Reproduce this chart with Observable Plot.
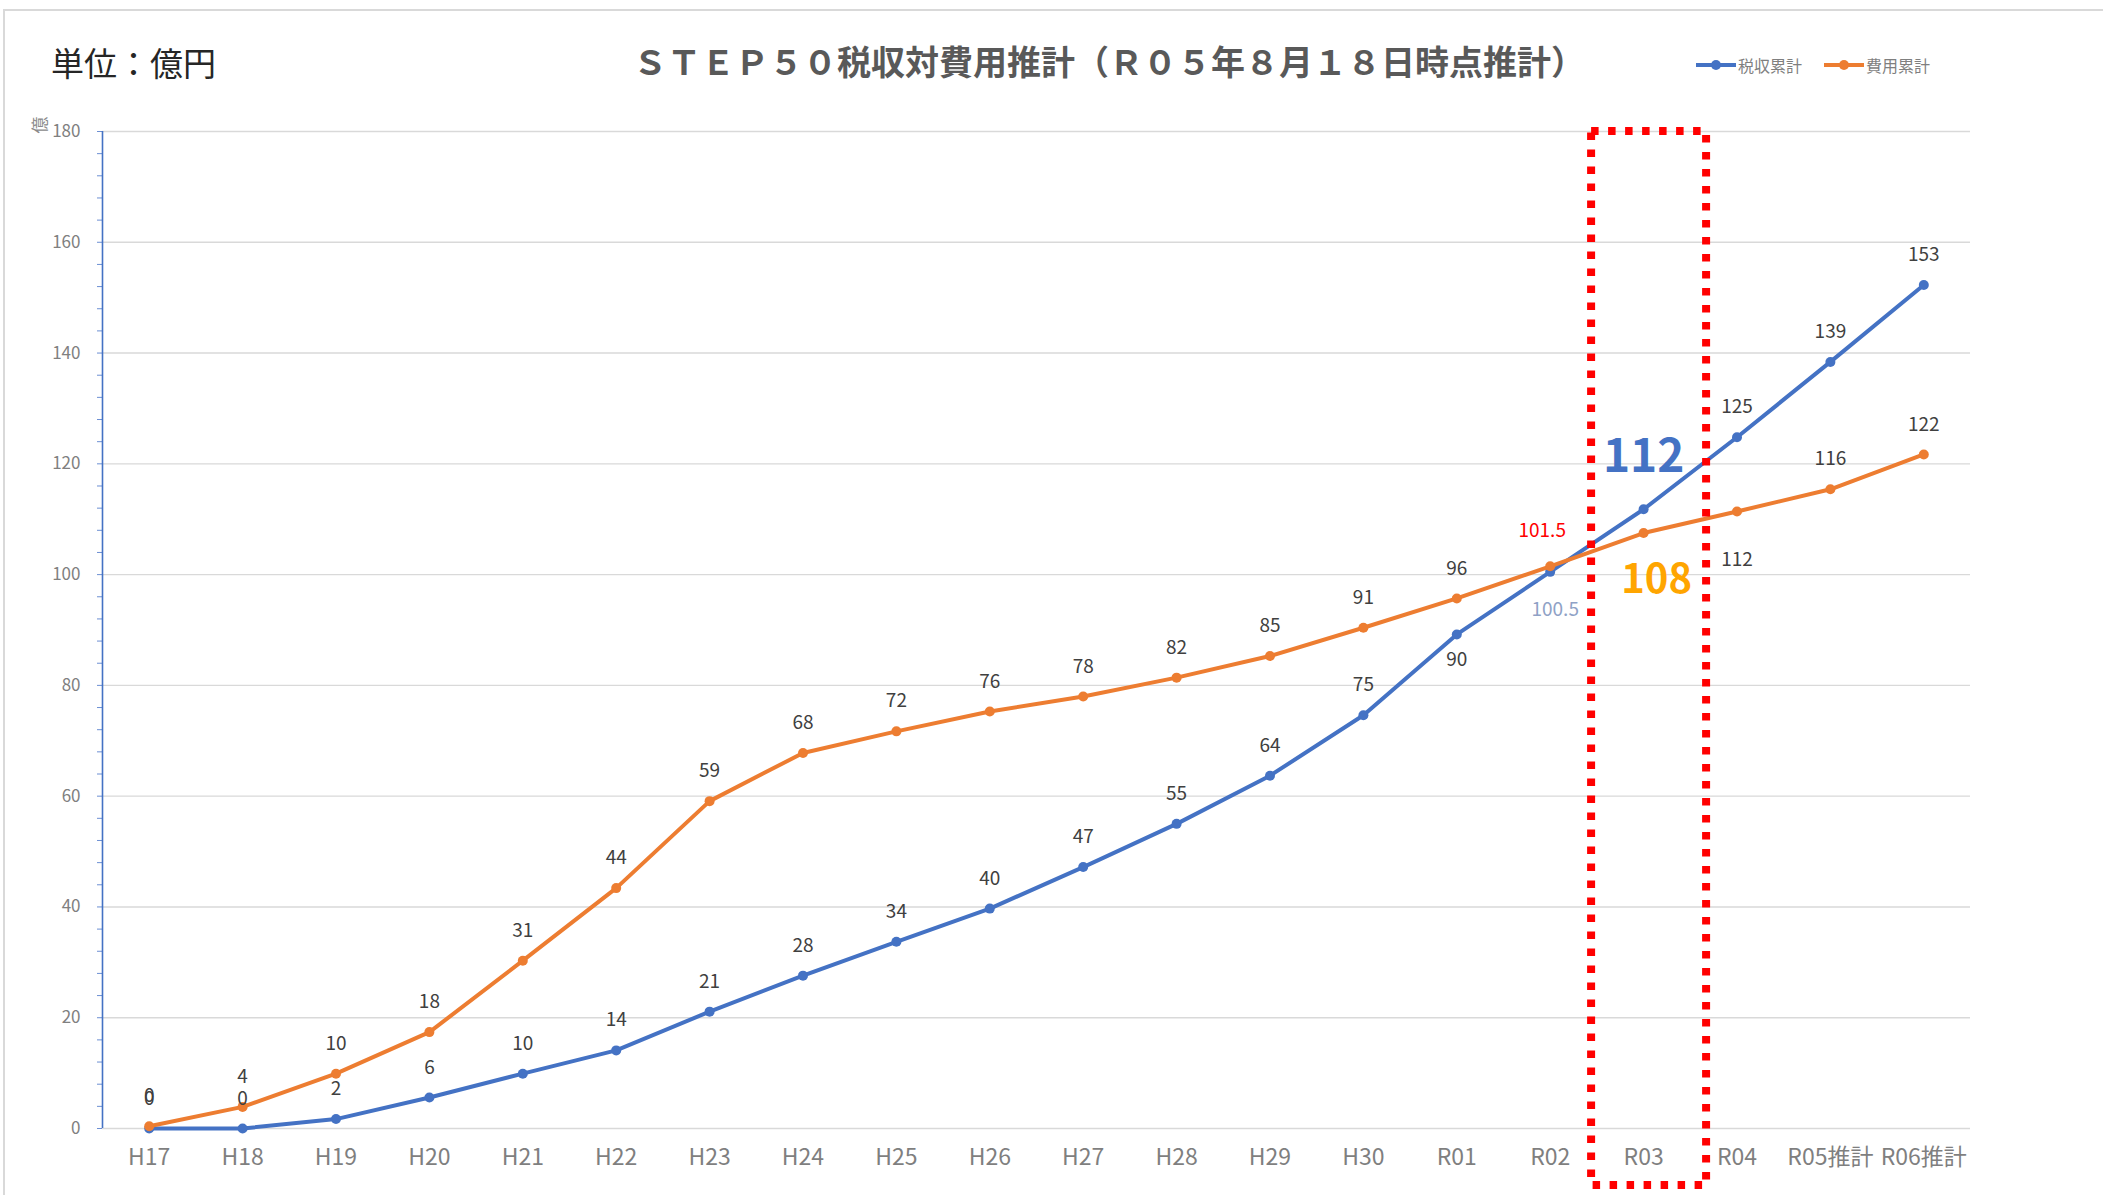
<!DOCTYPE html>
<html lang="ja">
<head>
<meta charset="utf-8">
<script src="https://cdn.jsdelivr.net/npm/d3@7"></script>
<script src="https://cdn.jsdelivr.net/npm/@observablehq/plot@0.6"></script>
<style>
  html, body { margin: 0; padding: 0; background: #fff; }
  body { width: 2103px; height: 1195px; overflow: hidden; position: relative; font-family: "Noto Sans CJK JP", sans-serif; }
  #frame { position: absolute; left: 3px; top: 9px; width: 2200px; height: 1300px; border-left: 2px solid #d9d9d9; border-top: 2px solid #d9d9d9; }
  #unit { position: absolute; left: 51px; top: 40px; font-size: 33px; color: #262626; line-height: 44px; }
  #title { position: absolute; left: 7px; width: 2204px; top: 39px; text-align: center; font-size: 34px; font-weight: 700; color: #595959; line-height: 44px; }
  #legend { position: absolute; left: 1696px; top: 53px; display: flex; align-items: center; font-size: 16px; color: #7f7f7f; }
  #legend .item { display: flex; align-items: center; margin-right: 22px; }
  #legend svg { margin-right: 2px; }
  #chart { position: absolute; left: 0; top: 95px; }
</style>
</head>
<body>
<div id="frame"></div>
<div id="unit">単位：億円</div>
<div id="title">ＳＴＥＰ５０税収対費用推計（Ｒ０５年８月１８日時点推計）</div>
<div id="legend"></div>
<div id="chart"></div>
<script>
// ---- data ----
const categories = ["H17","H18","H19","H20","H21","H22","H23","H24","H25","H26","H27","H28","H29","H30","R01","R02","R03","R04","R05推計","R06推計"];
const seriesNames = ["税収累計", "費用累計"];
const taxValues  = [0, 0, 1.7, 5.6, 9.9, 14.1, 21.1, 27.6, 33.7, 39.7, 47.2, 55.0, 63.7, 74.6, 89.2, 100.5, 111.8, 124.8, 138.4, 152.3];
const costValues = [0.4, 3.9, 9.9, 17.4, 30.3, 43.4, 59.1, 67.8, 71.7, 75.3, 78.0, 81.4, 85.3, 90.4, 95.7, 101.5, 107.5, 111.4, 115.4, 121.7];
const taxLabels  = ["0","0","2","6","10","14","21","28","34","40","47","55","64","75","90","100.5","112","125","139","153"];
const costLabels = ["0","4","10","18","31","44","59","68","72","76","78","82","85","91","96","101.5","108","112","116","122"];
const yTicks = [0, 20, 40, 60, 80, 100, 120, 140, 160, 180];
const yUnit = "億";
const noteCategory = "R02";
const highlightCategory = "R03";
const taxBelow = ["R01"];
const costBelow = ["R04"];

// ---- styles ----
const BLUE = "#4472C4", ORANGE = "#ED7D31";
const FONT = "'Noto Sans CJK JP', sans-serif";
const W = 2103, H = 1100, ML = 102, MR = 133, MT = 36, MB = 67;
const step = (W - ML - MR) / categories.length;
const yMax = d3.max(yTicks), yMin = d3.min(yTicks);

const taxRows = categories.map((c, i) => ({cat: c, value: taxValues[i], label: taxLabels[i]}));
const costRows = categories.map((c, i) => ({cat: c, value: costValues[i], label: costLabels[i]}));

const special = new Set([noteCategory, highlightCategory]);
const taxAbove = taxRows.filter(d => !special.has(d.cat) && !taxBelow.includes(d.cat));
const taxUnder = taxRows.filter(d => taxBelow.includes(d.cat));
const costAbove = costRows.filter(d => !special.has(d.cat) && !costBelow.includes(d.cat));
const costUnder = costRows.filter(d => costBelow.includes(d.cat));
const pick = (rows, c) => rows.filter(d => d.cat === c);

const lab = {x: "cat", y: "value", text: "label", fontFamily: FONT};

const chart = Plot.plot({
  width: W, height: H,
  marginLeft: ML, marginRight: MR, marginTop: MT, marginBottom: MB,
  style: {fontFamily: FONT, background: "transparent"},
  x: {type: "point", domain: categories, padding: 0.5, round: false, axis: null},
  y: {domain: [yMin, yMax], axis: null},
  marks: [
    Plot.gridY({ticks: yTicks, stroke: "#d9d9d9", strokeOpacity: 1, strokeWidth: 1.4}),
    Plot.axisY({ticks: d3.range(yMin, yMax + 1, 4), tickFormat: d => (d % 20 === 0 ? String(d) : ""), tickSize: 5, tickPadding: 17, fontSize: 17, fill: "#808080", stroke: "#6C8FD3", label: null}),
    Plot.axisX({tickSize: 0, tickPadding: 20, fontSize: 23, fill: "#7f7f7f", label: null}),
    Plot.ruleX([categories[0]], {dx: -step / 2, y1: yMin, y2: yMax, stroke: BLUE, strokeWidth: 1.6}),
    Plot.line(taxRows, {x: "cat", y: "value", stroke: BLUE, strokeWidth: 4}),
    Plot.dot(taxRows, {x: "cat", y: "value", r: 5, fill: BLUE}),
    Plot.line(costRows, {x: "cat", y: "value", stroke: ORANGE, strokeWidth: 4}),
    Plot.dot(costRows, {x: "cat", y: "value", r: 5, fill: ORANGE}),
    // ordinary data labels
    Plot.text(taxAbove, {...lab, dy: -30, fontSize: 19, fill: "#404040"}),
    Plot.text(taxUnder, {...lab, dy: 25, fontSize: 19, fill: "#404040"}),
    Plot.text(costAbove, {...lab, dy: -30, fontSize: 19, fill: "#404040"}),
    Plot.text(costUnder, {...lab, dy: 48, fontSize: 19, fill: "#404040"}),
    // annotated labels
    Plot.text(pick(costRows, noteCategory), {...lab, dy: -35, dx: -8, fontSize: 19, fill: "#FF0000"}),
    Plot.text(pick(taxRows, noteCategory), {...lab, dy: 38, dx: 5, fontSize: 19, fill: "#8FA2C6"}),
    Plot.text(pick(taxRows, highlightCategory), {...lab, dy: -52, fontSize: 46, fontWeight: "bold", fill: BLUE}),
    Plot.text(pick(costRows, highlightCategory), {...lab, dy: 47, dx: 13, fontSize: 40, fontWeight: "bold", fill: "#FFA500"}),
    // highlight box
    Plot.rect([highlightCategory], {x1: d => d, x2: d => d, y1: yMax, y2: yMin, insetLeft: -52, insetRight: -63, insetBottom: -57, fill: "none", stroke: "#FF0000", strokeWidth: 8, strokeDasharray: "7.5,9.5"}),
    // y unit
    Plot.text([yUnit], {frameAnchor: "top-left", dx: -69, dy: 2, rotate: -90, fontSize: 17, fill: "#8a8a8a", fontFamily: FONT})
  ]
});
document.getElementById("chart").appendChild(chart);

// legend
const legend = document.getElementById("legend");
[[seriesNames[0], BLUE], [seriesNames[1], ORANGE]].forEach(([name, color]) => {
  const item = document.createElement("div");
  item.className = "item";
  item.innerHTML = `<svg width="40" height="14"><line x1="0" y1="7" x2="40" y2="7" stroke="${color}" stroke-width="4"/><circle cx="20" cy="7" r="5" fill="${color}"/></svg><span>${name}</span>`;
  legend.appendChild(item);
});
</script>
</body>
</html>
